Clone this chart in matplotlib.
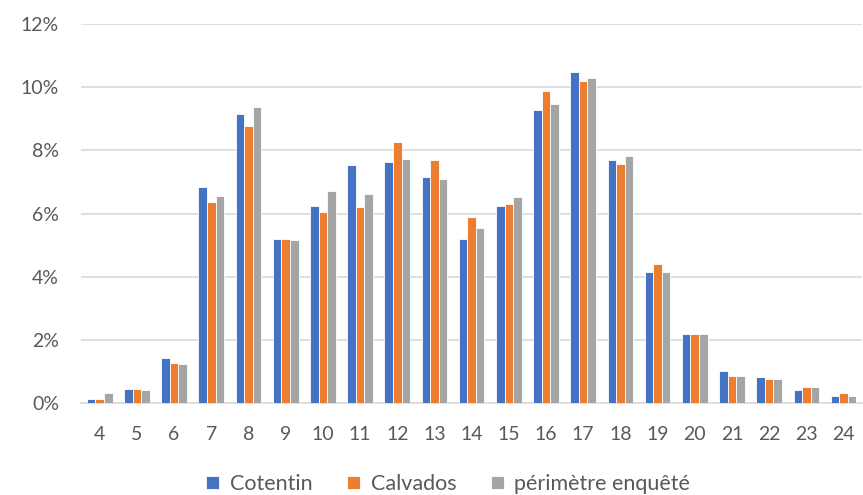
import numpy as np
import matplotlib
matplotlib.use("Agg")
import matplotlib.pyplot as plt
from matplotlib.ticker import FuncFormatter

plt.rcParams['font.family'] = ['Lato', 'DejaVu Sans']

ages = [4, 5, 6, 7, 8, 9, 10, 11, 12, 13, 14, 15, 16, 17, 18, 19, 20, 21, 22, 23, 24]
cotentin = [0.14, 0.45, 1.42, 6.84, 9.14, 5.19, 6.24, 7.54, 7.62, 7.17, 5.19,
            6.25, 9.28, 10.47, 7.68, 4.14, 2.21, 1.01, 0.82, 0.41, 0.23]
calvados = [0.14, 0.45, 1.28, 6.38, 8.77, 5.19, 6.06, 6.20, 8.27, 7.68, 5.88,
            6.29, 9.88, 10.20, 7.58, 4.42, 2.21, 0.87, 0.78, 0.51, 0.33]
perimetre = [0.33, 0.41, 1.24, 6.57, 9.37, 5.15, 6.71, 6.61, 7.72, 7.08, 5.56,
             6.53, 9.47, 10.29, 7.81, 4.14, 2.21, 0.87, 0.78, 0.51, 0.23]

series = [("Cotentin", cotentin, "#4472C4"),
          ("Calvados", calvados, "#ED7D31"),
          ("périmètre enquêté", perimetre, "#A5A5A5")]

fig = plt.figure(figsize=(8.63, 4.95), dpi=100)
ax = fig.add_axes([0.094, 0.185, 0.905, 0.767])

x = np.arange(len(ages))
w = 0.23
for i, (name, vals, col) in enumerate(series):
    ax.bar(x + (i - 1) * w, vals, width=w, color=col, edgecolor="white",
           linewidth=0.6, label=name, zorder=3)

ax.set_xlim(-0.5, len(ages) - 0.5)
ax.set_ylim(0, 12)
ax.set_yticks(range(0, 13, 2))
ax.yaxis.set_major_formatter(FuncFormatter(lambda v, p: f"{int(v)}%"))
ax.set_xticks(x)
ax.set_xticklabels([str(a) for a in ages])

ax.grid(axis="y", color="#D9D9D9", linewidth=1.2, zorder=0)
for s in ["top", "right", "left"]:
    ax.spines[s].set_visible(False)
ax.spines["bottom"].set_color("#D9D9D9")
ax.spines["bottom"].set_linewidth(1.2)
ax.tick_params(axis="both", length=0, colors="#595959", labelsize=14)
ax.tick_params(axis="y", pad=16)
ax.tick_params(axis="x", pad=16)

ax.legend(loc="upper center", bbox_to_anchor=(0.47, -0.135), ncol=3, frameon=False,
          fontsize=15.5, handlelength=0.6, handleheight=0.6, columnspacing=1.6,
          handletextpad=0.5, labelcolor="#595959")

fig.savefig("out.png", dpi=100)
